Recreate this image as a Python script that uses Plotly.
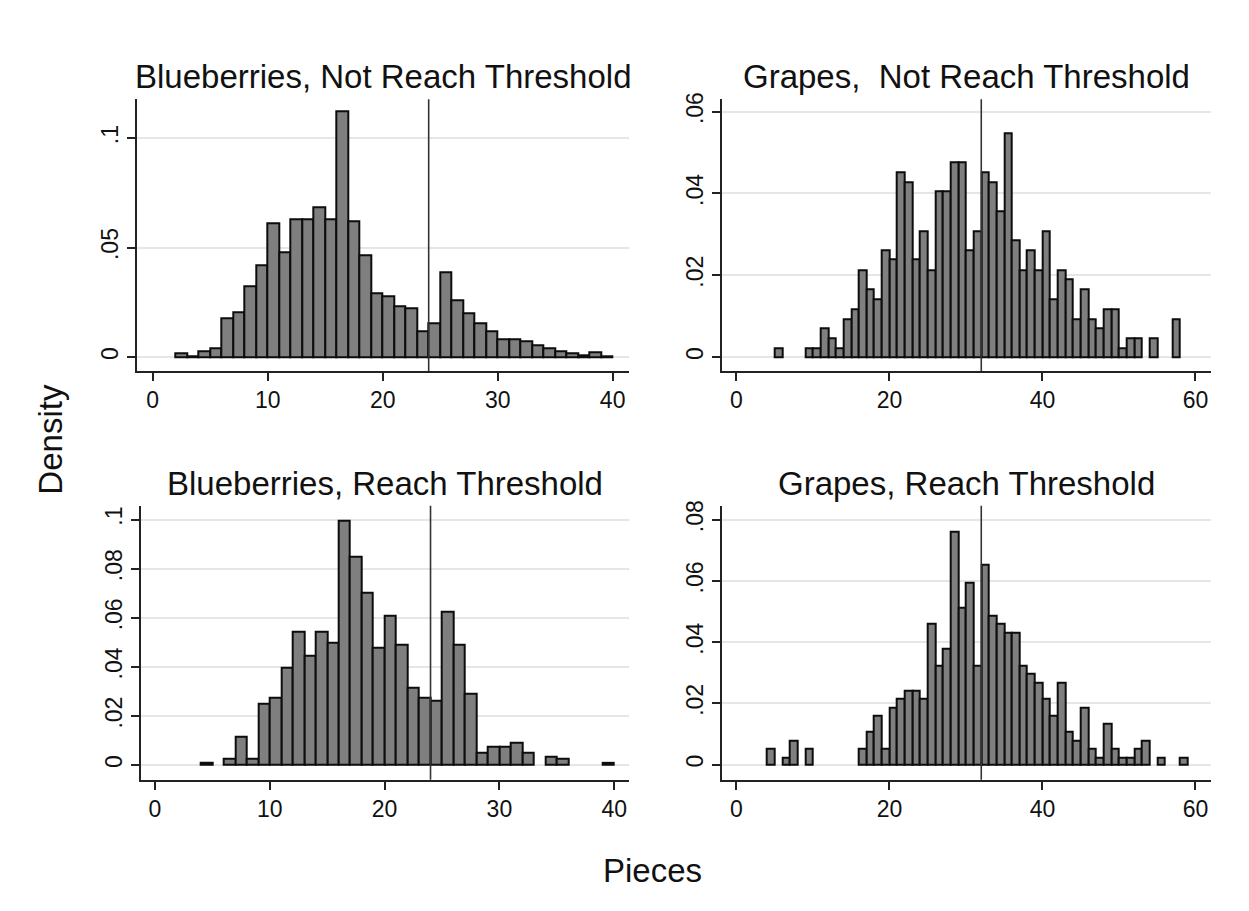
import plotly.graph_objects as go

# ---------------- data (bin start, density) ----------------
bb_nr_bins = [2, 3, 4, 5, 6, 7, 8, 9, 10, 11, 12, 13, 14, 15, 16, 17, 18, 19, 20,
              21, 22, 23, 24, 25, 26, 27, 28, 29, 30, 31, 32, 33, 34, 35, 36, 37, 38, 39]
bb_nr_dens = [0.0015, 0.0005, 0.0027, 0.0042, 0.0178, 0.0205, 0.0323, 0.0419, 0.0612,
              0.0476, 0.0627, 0.0627, 0.0683, 0.0627, 0.1120, 0.0621, 0.0464, 0.0289,
              0.0275, 0.0231, 0.0221, 0.0116, 0.0153, 0.0388, 0.0257, 0.0199, 0.0153,
              0.0116, 0.0083, 0.0083, 0.0070, 0.0054, 0.0039, 0.0027, 0.0015, 0.0009,
              0.0020, 0.0005]

gr_nr_bins = [5, 9, 10, 11, 12, 13, 14, 15, 16, 17, 18, 19, 20, 21, 22, 23, 24, 25, 26,
              27, 28, 29, 30, 31, 32, 33, 34, 35, 36, 37, 38, 39, 40, 41, 42, 43, 44, 45,
              46, 47, 48, 49, 50, 51, 52, 54, 57]
gr_nr_dens = [0.0021, 0.0021, 0.0021, 0.0070, 0.0045, 0.0021, 0.0093, 0.0117, 0.0213,
              0.0166, 0.0142, 0.0261, 0.0238, 0.0452, 0.0428, 0.0238, 0.0308, 0.0213,
              0.0404, 0.0404, 0.0476, 0.0476, 0.0261, 0.0308, 0.0452, 0.0428, 0.0356,
              0.0547, 0.0285, 0.0213, 0.0261, 0.0213, 0.0308, 0.0142, 0.0213, 0.0190,
              0.0093, 0.0166, 0.0093, 0.0070, 0.0117, 0.0117, 0.0021, 0.0045, 0.0045,
              0.0045, 0.0093]

bb_r_bins = [4, 6, 7, 8, 9, 10, 11, 12, 13, 14, 15, 16, 17, 18, 19, 20, 21, 22, 23, 24,
             25, 26, 27, 28, 29, 30, 31, 32, 34, 35, 39]
bb_r_dens = [0.0011, 0.0024, 0.0116, 0.0024, 0.0249, 0.0274, 0.0396, 0.0542, 0.0447,
             0.0542, 0.0500, 0.0993, 0.0848, 0.0702, 0.0477, 0.0606, 0.0488, 0.0315,
             0.0275, 0.0261, 0.0623, 0.0488, 0.0290, 0.0049, 0.0075, 0.0075, 0.0090,
             0.0049, 0.0035, 0.0024, 0.0011]

gr_r_bins = [4, 6, 7, 9, 16, 17, 18, 19, 20, 21, 22, 23, 24, 25, 26, 27, 28, 29, 30, 31,
             32, 33, 34, 35, 36, 37, 38, 39, 40, 41, 42, 43, 44, 45, 46, 47, 48, 49, 50,
             51, 52, 53, 55, 58]
gr_r_dens = [0.0050, 0.0022, 0.0078, 0.0050, 0.0050, 0.0106, 0.0159, 0.0050, 0.0186,
             0.0213, 0.0240, 0.0240, 0.0213, 0.0458, 0.0323, 0.0378, 0.0759, 0.0513,
             0.0595, 0.0323, 0.0651, 0.0486, 0.0458, 0.0430, 0.0430, 0.0323, 0.0296,
             0.0268, 0.0213, 0.0159, 0.0268, 0.0106, 0.0078, 0.0186, 0.0050, 0.0022,
             0.0132, 0.0050, 0.0022, 0.0022, 0.0050, 0.0078, 0.0022, 0.0022]

bin_width = 1
thresholds = [24, 32, 24, 32]

titles = ["Blueberries, Not Reach Threshold", "Grapes,\u00a0 Not Reach Threshold",
          "Blueberries, Reach Threshold", "Grapes, Reach Threshold"]

x_ticks_bb = [0, 10, 20, 30, 40]
x_ticks_gr = [0, 20, 40, 60]
y_ticks = [
    ([0, 0.05, 0.1], ["0", ".05", ".1"]),
    ([0, 0.02, 0.04, 0.06], ["0", ".02", ".04", ".06"]),
    ([0, 0.02, 0.04, 0.06, 0.08, 0.1], ["0", ".02", ".04", ".06", ".08", ".1"]),
    ([0, 0.02, 0.04, 0.06, 0.08], ["0", ".02", ".04", ".06", ".08"]),
]

# ---------------- layout geometry (pixels) ----------------
W, H = 1249, 911
panels = [  # left, right, top, bottom (px), xrange, yrange
    dict(px=(137.3, 629.0), py=(93.0, 366.7), xr=[-1.339, 41.42], yr=[-0.00635, 0.1177]),
    dict(px=(721.7, 1211.0), py=(93.0, 366.7), xr=[-1.93, 62.03], yr=[-0.0034, 0.0630]),
    dict(px=(140.7, 629.0), py=(502.7, 778.7), xr=[-1.246, 41.29], yr=[-0.00594, 0.1056]),
    dict(px=(721.7, 1211.0), py=(502.7, 778.7), xr=[-1.93, 62.03], yr=[-0.00496, 0.0845]),
]

data = [(bb_nr_bins, bb_nr_dens), (gr_nr_bins, gr_nr_dens),
        (bb_r_bins, bb_r_dens), (gr_r_bins, gr_r_dens)]

FONT = "Arial, Liberation Sans, sans-serif"
fig = go.Figure()
shapes = []
annotations = []
layout_axes = {}

for i, (p, (bins, dens)) in enumerate(zip(panels, data)):
    n = "" if i == 0 else str(i + 1)
    xa, ya = "x" + n, "y" + n
    fig.add_trace(go.Bar(
        x=[b + bin_width / 2 for b in bins], y=dens, width=bin_width,
        marker=dict(color="#7f7f7f", line=dict(color="#0d0d0d", width=2)),
        xaxis=xa, yaxis=ya, showlegend=False, hoverinfo="x+y"))
    xd = [p["px"][0] / W, p["px"][1] / W]
    yd = [1 - p["py"][1] / H, 1 - p["py"][0] / H]
    xt = x_ticks_bb if i in (0, 2) else x_ticks_gr
    layout_axes["xaxis" + n] = dict(
        domain=xd, range=p["xr"], anchor=ya, tickvals=xt, ticktext=[str(v) for v in xt],
        showgrid=False, zeroline=False, showline=True, linecolor="#222222", linewidth=1.8,
        ticks="outside", ticklen=8, tickwidth=1.8, tickcolor="#222222",
        tickfont=dict(family=FONT, size=23, color="#111111"), fixedrange=True)
    tv, tt = y_ticks[i]
    layout_axes["yaxis" + n] = dict(
        domain=yd, range=p["yr"], anchor=xa, tickvals=tv, ticktext=tt, tickangle=-90,
        showgrid=True, gridcolor="#e6e6e6", gridwidth=1.6, zeroline=False,
        showline=True, linecolor="#222222", linewidth=1.8,
        ticks="outside", ticklen=8, tickwidth=1.8, tickcolor="#222222",
        tickfont=dict(family=FONT, size=23, color="#111111"), fixedrange=True)
    shapes.append(dict(type="line", xref=xa, yref=ya + " domain",
                       x0=thresholds[i], x1=thresholds[i], y0=0, y1=1,
                       line=dict(color="#333333", width=1.6)))
    annotations.append(dict(text=titles[i], xref="paper", yref="paper",
                            x=(xd[0] + xd[1]) / 2, y=yd[1] + 23 / H,
                            xanchor="center", yanchor="middle", showarrow=False,
                            font=dict(family=FONT, size=33, color="#111111")))

annotations.append(dict(text="Density", xref="paper", yref="paper", x=51 / W, y=1 - 436 / H,
                        xanchor="center", yanchor="middle", textangle=-90, showarrow=False,
                        font=dict(family=FONT, size=33, color="#111111")))
annotations.append(dict(text="Pieces", xref="paper", yref="paper", x=652 / W, y=1 - 870 / H,
                        xanchor="center", yanchor="middle", showarrow=False,
                        font=dict(family=FONT, size=33, color="#111111")))

fig.update_layout(
    width=W, height=H, margin=dict(l=0, r=0, t=0, b=0),
    paper_bgcolor="white", plot_bgcolor="white", bargap=0,
    shapes=shapes, annotations=annotations, **layout_axes)

fig.write_html("out.html", config={"displayModeBar": False},
               post_script="document.body.style.margin='0';document.body.style.overflow='hidden';")
